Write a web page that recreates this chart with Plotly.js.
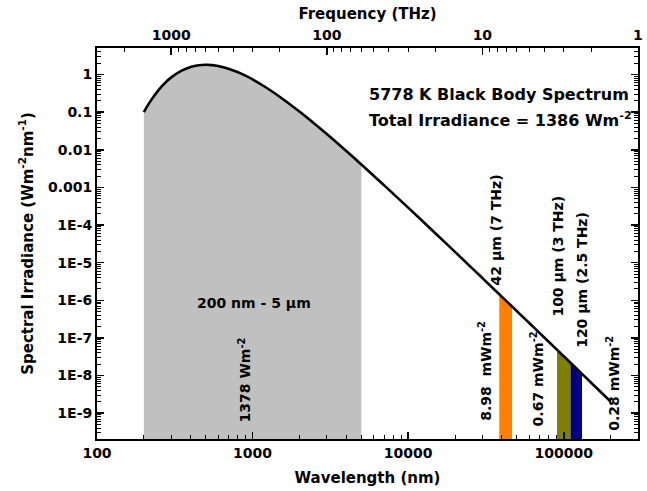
<!DOCTYPE html>
<html><head><meta charset="utf-8">
<script src="https://cdn.plot.ly/plotly-3.0.1.min.js"></script>
<style>html,body{margin:0;padding:0;background:#fff}#chart{width:647px;height:491px}</style>
</head><body><div id="chart"></div>
<script>
// Black body curve (wavelength in nm, irradiance in W m^-2 nm^-1)
const wavelengthNm = [200, 220, 250, 275, 300, 350, 400, 450, 500, 550, 600, 700, 800, 900, 1000, 1200, 1500, 2000, 2500, 3000, 4000, 5000, 7000, 10000, 15000, 20000, 30000, 38500, 42000, 46500, 60000, 80000, 90500, 100000, 110500, 131000, 150000, 200000];
const irradiance = [0.1004, 0.1934, 0.3968, 0.6094, 0.8389, 1.271, 1.588, 1.764, 1.816, 1.781, 1.689, 1.433, 1.165, 0.9314, 0.7414, 0.4732, 0.2535, 0.1036, 0.04918, 0.02609, 0.009273, 0.004066, 0.001142, 2.901e-4, 5.979e-5, 1.933e-5, 3.899e-6, 1.451e-6, 1.027e-6, 6.857e-7, 2.489e-7, 7.916e-8, 4.842e-8, 3.252e-8, 2.184e-8, 1.108e-8, 6.451e-9, 2.045e-9];

// Shaded band 200 nm - 5 um
const mainBandNm = [200, 5000];
// Narrow THz bands
const bandStartNm = [38500, 90500, 110500];
const bandEndNm = [46500, 110500, 131000];
const bandColors = ['#ff8000', '#808000', '#000080'];
const bandEdgeColor = '#a4a0e6';

// Axis ticks
const xTickVals = [100, 1000, 10000, 100000];
const xTickText = ['100', '1000', '10000', '100000'];
const yTickVals = [1, 0.1, 0.01, 0.001, 1e-4, 1e-5, 1e-6, 1e-7, 1e-8, 1e-9];
const yTickText = ['1', '0.1', '0.01', '0.001', '1E-4', '1E-5', '1E-6', '1E-7', '1E-8', '1E-9'];
const freqTickVals = [1000, 100, 10, 1];
const freqTickText = ['1000', '100', '10', '1'];

const C_NM_THZ = 299792.458; // nm * THz
const xRange = [2, Math.log10(300000)];
const yRange = [-9.686, 0.705];

function minorTicks(lo, hi) {
  const out = [];
  for (let d = Math.floor(lo); d <= Math.ceil(hi); d++) {
    for (let k = 2; k <= 9; k++) out.push(k * Math.pow(10, d));
  }
  return out;
}

function subset(lo, hi) {
  const xs = [], ys = [];
  wavelengthNm.forEach((w, i) => { if (w >= lo && w <= hi) { xs.push(w); ys.push(irradiance[i]); } });
  return {xs, ys};
}
function valueAt(w) { return irradiance[wavelengthNm.indexOf(w)]; }

const traces = [];
const main = subset(mainBandNm[0], mainBandNm[1]);
traces.push({x: main.xs, y: main.ys, type: 'scatter', mode: 'lines', fill: 'tozeroy',
  fillcolor: '#c0c0c0', line: {width: 0, shape: 'spline', color: '#c0c0c0'}, hoverinfo: 'skip'});
bandStartNm.forEach((s, i) => {
  const b = subset(s, bandEndNm[i]);
  traces.push({x: b.xs, y: b.ys, type: 'scatter', mode: 'lines', fill: 'tozeroy',
    fillcolor: bandColors[i], line: {width: 0, color: bandColors[i]}, hoverinfo: 'skip'});
});
traces.push({x: wavelengthNm, y: irradiance, type: 'scatter', mode: 'lines',
  line: {color: '#000', width: 2.6, shape: 'spline'}});
// helper trace so the top frequency axis is drawn (no visible marks)
traces.push({x: freqTickVals, y: freqTickVals.map(() => null), xaxis: 'x2', yaxis: 'y',
  type: 'scatter', mode: 'lines', hoverinfo: 'skip', line: {width: 0}});

// thin edge lines on the narrow bands
const edgeShapes = [];
bandStartNm.forEach((s, i) => {
  [s, bandEndNm[i]].forEach(w => {
    edgeShapes.push({type: 'line', xref: 'x', yref: 'y', layer: 'above',
      x0: Math.log10(w), x1: Math.log10(w), y0: yRange[0], y1: Math.log10(valueAt(w)),
      line: {color: bandEdgeColor, width: 1}});
  });
});

const FONT = 'DejaVu Sans, Liberation Sans, Arial, sans-serif';
const tickFont = {family: FONT, size: 14, color: '#000', weight: 'bold'};
const titleFont = {family: FONT, size: 15, color: '#000', weight: 'bold'};
const annFont = {family: FONT, size: 14, color: '#000', weight: 'bold'};
const bigFont = {family: FONT, size: 16, color: '#000', weight: 'bold'};

function ann(text, x, y, opts) {
  return Object.assign({text, x, y, xref: 'paper', yref: 'paper', showarrow: false,
    font: annFont, xanchor: 'center', yanchor: 'middle'}, opts || {});
}

const layout = {
  width: 647, height: 491,
  margin: {l: 97, r: 9, t: 48, b: 52},
  paper_bgcolor: '#fff', plot_bgcolor: '#fff',
  showlegend: false,
  font: {family: FONT, color: '#000'},
  xaxis: {
    type: 'log', range: xRange, showgrid: false, zeroline: false,
    showline: true, linecolor: '#000', linewidth: 2,
    ticks: 'inside', ticklen: 7, tickwidth: 1.5, tickcolor: '#000',
    tickmode: 'array', tickvals: xTickVals, ticktext: xTickText, tickfont: tickFont,
    minor: {tickmode: 'array', tickvals: minorTicks(2, 5), ticks: 'inside', ticklen: 4, tickwidth: 1, tickcolor: '#000', showgrid: false},
    title: {text: 'Wavelength (nm)', font: titleFont, standoff: 13}
  },
  xaxis2: {
    type: 'log', overlaying: 'x', side: 'top', anchor: 'y',
    range: [Math.log10(C_NM_THZ / Math.pow(10, xRange[0])), Math.log10(C_NM_THZ / Math.pow(10, xRange[1]))],
    showgrid: false, zeroline: false,
    showline: true, linecolor: '#000', linewidth: 2,
    ticks: 'inside', ticklen: 7, tickwidth: 1.5, tickcolor: '#000',
    tickmode: 'array', tickvals: freqTickVals, ticktext: freqTickText, tickfont: tickFont,
    minor: {tickmode: 'array', tickvals: minorTicks(0, 3), ticks: 'inside', ticklen: 4, tickwidth: 1, tickcolor: '#000', showgrid: false},
    title: {text: 'Frequency (THz)', font: titleFont, standoff: 4}
  },
  yaxis: {
    type: 'log', range: yRange, showgrid: false, zeroline: false,
    showline: true, linecolor: '#000', linewidth: 2, mirror: 'ticks',
    ticks: 'inside', ticklen: 7, tickwidth: 1.5, tickcolor: '#000',
    tickmode: 'array', tickvals: yTickVals, ticktext: yTickText, tickfont: tickFont,
    minor: {tickmode: 'array', tickvals: minorTicks(-10, 0), ticks: 'inside', ticklen: 4, tickwidth: 1, tickcolor: '#000', showgrid: false},
    title: {text: 'Spectral Irradiance (Wm<sup>-2</sup>nm<sup>-1</sup>)', font: titleFont, standoff: 11}
  },
  shapes: edgeShapes,
  annotations: [
    ann('5778 K Black Body Spectrum', 0.499, 0.880, {xanchor: 'left', font: bigFont}),
    ann('Total Irradiance = 1386 Wm<sup>-2</sup>', 0.499, 0.816, {xanchor: 'left', font: bigFont}),
    ann('200 nm - 5 μm', 0.290, 0.348),
    ann('1378 Wm<sup>-2</sup>', 0.2736, 0.036, {textangle: -90, yanchor: 'bottom'}),
    ann('42 μm (7 THz)', 0.7375, 0.389, {textangle: -90, yanchor: 'bottom'}),
    ann('8.98  mWm<sup>-2</sup>', 0.717, 0.041, {textangle: -90, yanchor: 'bottom'}),
    ann('0.67 mWm<sup>-2</sup>', 0.813, 0.028, {textangle: -90, yanchor: 'bottom'}),
    ann('100 μm (3 THz)', 0.852, 0.309, {textangle: -90, yanchor: 'bottom'}),
    ann('120 μm (2.5 THz)', 0.8965, 0.228, {textangle: -90, yanchor: 'bottom'}),
    ann('0.28 mWm<sup>-2</sup>', 0.954, 0.015, {textangle: -90, yanchor: 'bottom'})
  ]
};

Plotly.newPlot('chart', traces, layout, {staticPlot: true, displayModeBar: false});
</script>
</body></html>
